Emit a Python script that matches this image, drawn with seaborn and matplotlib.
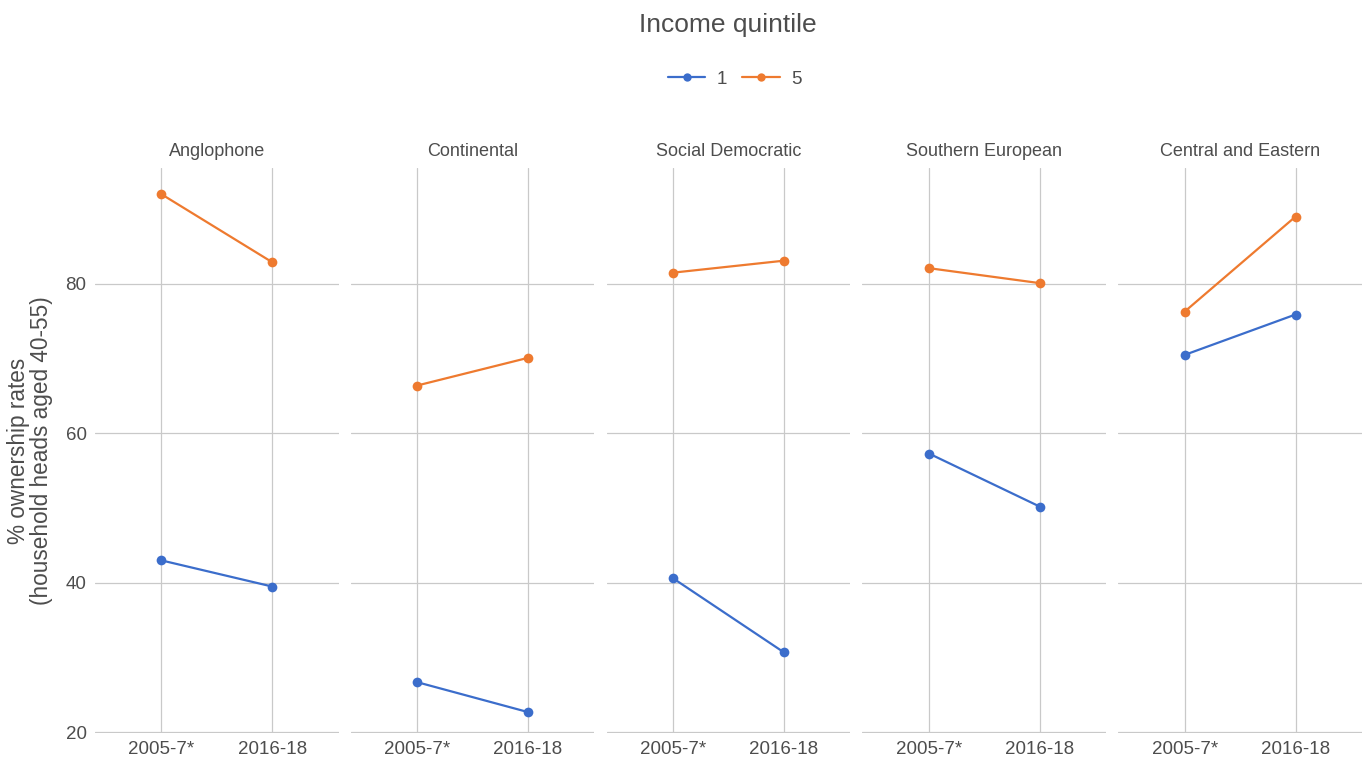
import matplotlib
matplotlib.use("Agg")
import matplotlib.pyplot as plt
import seaborn as sns
import pandas as pd

# values
regimes = ["Anglophone", "Continental", "Social Democratic", "Southern European", "Central and Eastern"]
periods = ["2005-7*", "2016-18"]
q1_start = [43.0, 26.7, 40.6, 57.3, 70.5]
q1_end = [39.5, 22.7, 30.7, 50.2, 75.9]
q5_start = [92.0, 66.4, 81.5, 82.1, 76.3]
q5_end = [82.9, 70.1, 83.1, 80.1, 89.0]
y_ticks = [20, 40, 60, 80]

rows = []
for i, reg in enumerate(regimes):
    rows.append((reg, periods[0], "1", q1_start[i]))
    rows.append((reg, periods[1], "1", q1_end[i]))
    rows.append((reg, periods[0], "5", q5_start[i]))
    rows.append((reg, periods[1], "5", q5_end[i]))
df = pd.DataFrame(rows, columns=["regime", "period", "quintile", "rate"])

sns.set_theme(style="white")
plt.rcParams["font.family"] = ["Liberation Sans", "DejaVu Sans"]
txt = "#4d4d4d"
grid = "#c9c9c9"
palette = {"1": "#3b6dcb", "5": "#ee7a2f"}

fig, axes = plt.subplots(1, 5, figsize=(13.68, 7.69), dpi=100, sharey=True)
fig.subplots_adjust(left=0.0694, right=0.9956, top=0.7815, bottom=0.0468, wspace=0.05)

for ax, reg in zip(axes, regimes):
    sub = df[df["regime"] == reg]
    sns.lineplot(data=sub, x="period", y="rate", hue="quintile", palette=palette,
                 marker="o", markersize=7, markeredgewidth=0, linewidth=1.6,
                 ax=ax, legend=False, zorder=3)
    ax.set_xlim(-0.6, 1.6)
    ax.set_ylim(19.9, 95.5)
    ax.set_yticks(y_ticks)
    ax.set_xlabel("")
    ax.set_ylabel("")
    ax.set_title(reg, fontsize=13, color=txt, pad=9)
    ax.grid(True, color=grid, linewidth=0.9)
    ax.set_axisbelow(True)
    for s in ax.spines.values():
        s.set_visible(False)
    ax.tick_params(axis="both", length=0, labelsize=13.5, labelcolor=txt, pad=6)

axes[0].set_ylabel("% ownership rates\n(household heads aged 40-55)",
                   fontsize=16.3, color=txt, labelpad=9, linespacing=1.0)

fig.text(0.532, 0.968, "Income quintile", ha="center", va="center", fontsize=19, color=txt)
handles = [plt.Line2D([], [], color=palette[q], marker="o", markersize=6,
                      markeredgewidth=0, linewidth=1.6) for q in ["1", "5"]]
fig.legend(handles, ["1", "5"], loc="center", bbox_to_anchor=(0.537, 0.897), ncol=2,
           frameon=False, fontsize=13.5, labelcolor=txt, handlelength=2.0,
           columnspacing=0.8, handletextpad=0.6)

fig.savefig("out.png", dpi=100)
